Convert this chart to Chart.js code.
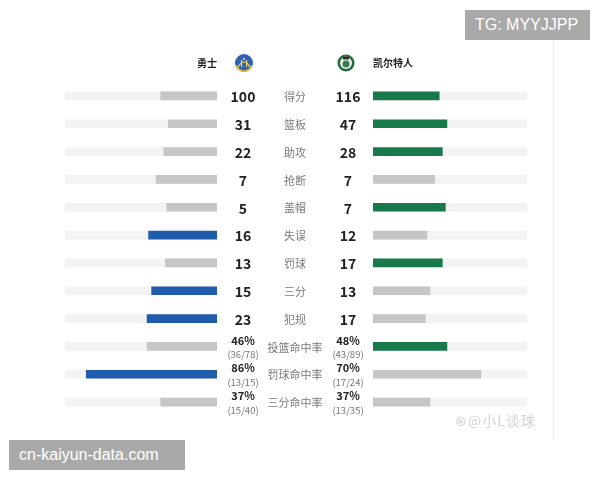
<!DOCTYPE html>
<html>
<head>
<meta charset="utf-8">
<script src="https://cdn.jsdelivr.net/npm/chart.js@4.4.1/dist/chart.umd.min.js"></script>
<style>
  html, body { margin: 0; padding: 0; background: #fff; }
  #wrap { position: relative; width: 600px; height: 480px; }
  canvas { position: absolute; left: 0; top: 0; }
  .tag { position: absolute; background: #a9a9a9; color: #fff; font-family: "Liberation Sans", "DejaVu Sans", sans-serif; font-size: 16px; line-height: 30px; padding: 0 10px; }
  .vline { position: absolute; left: 553px; top: 40px; width: 1px; height: 400px; background: #ececec; }
  .wm { position: absolute; left: 455px; top: 410px; color: #d4d4d4; font-family: "Noto Sans CJK SC", sans-serif; font-size: 14px; letter-spacing: 1px; }
</style>
</head>
<body>
<div id="wrap">
  <canvas id="c" width="600" height="480"></canvas>
  <div class="vline"></div>
  <div class="tag" style="left:465px; top:10px; width:105px;">TG: MYYJJPP</div>
  <div class="tag" style="left:9px; top:440px; width:156px;">cn-kaiyun-data.com</div>
  <div class="wm">⊛@小L谈球</div>
</div>
<script>
const teamNames = ['勇士', '凯尔特人'];
const categories = ['得分','篮板','助攻','抢断','盖帽','失误','罚球','三分','犯规','投篮命中率','罚球命中率','三分命中率'];
const warriorsValues = ['100','31','22','7','5','16','13','15','23','46%','86%','37%'];
const celticsValues  = ['116','47','28','7','7','12','17','13','17','48%','70%','37%'];
const warriorsFractions = ['','','','','','','','','','(36/78)','(13/15)','(15/40)'];
const celticsFractions  = ['','','','','','','','','','(43/89)','(17/24)','(13/35)'];
// bar length as % of the track
const warriorsBar = [37,32,35,40,33,45,34,43,46,46,86,37];
const celticsBar  = [43,48,45,40,47,35,45,37,34,48,70,37];
const warriorsLead = [0,0,0,0,0,1,0,1,1,0,1,0];
const celticsLead  = [1,1,1,0,1,0,1,0,0,1,0,0];
const trackFull = categories.map(() => 100);

const BLUE = '#1f5dac', GREEN = '#187a4b', GRAY = '#c6c6c6', TRACK = '#f3f3f3';
const CJK = '"Noto Sans CJK SC", "Noto Sans", sans-serif';

const labelPlugin = {
  id: 'labels',
  afterDatasetsDraw(chart) {
    const ctx = chart.ctx;
    const xm = chart.scales.xM, y = chart.scales.y;
    const cx = xm.getPixelForValue(0);
    const lx = xm.getPixelForValue(-52), rx = xm.getPixelForValue(53);
    ctx.save();
    ctx.textAlign = 'center';
    ctx.textBaseline = 'middle';
    categories.forEach((cat, i) => {
      const py = y.getPixelForValue(i);
      ctx.fillStyle = '#7a7a7a';
      ctx.font = '11px ' + CJK;
      ctx.fillText(cat, cx, py + 1);
      if (warriorsFractions[i]) {
        ctx.fillStyle = '#222';
        ctx.font = 'bold 11px ' + CJK;
        ctx.fillText(warriorsValues[i], lx, py - 6);
        ctx.fillText(celticsValues[i], rx, py - 6);
        ctx.fillStyle = '#777';
        ctx.font = '9.5px ' + CJK;
        ctx.fillText(warriorsFractions[i], lx, py + 8);
        ctx.fillText(celticsFractions[i], rx, py + 8);
      } else {
        ctx.fillStyle = '#222';
        ctx.font = 'bold 14px ' + CJK;
        ctx.fillText(warriorsValues[i], lx, py + 1);
        ctx.fillText(celticsValues[i], rx, py + 1);
      }
    });
    // header
    const hy = y.top - 19;
    ctx.fillStyle = '#222';
    ctx.font = 'bold 10px ' + CJK;
    ctx.fillText(teamNames[0], xm.left - 10, hy);
    ctx.fillText(teamNames[1], xm.right + 20, hy);
    // warriors logo
    const wx = xm.left + 27;
    ctx.beginPath(); ctx.arc(wx, hy, 9, 0, Math.PI * 2); ctx.fillStyle = '#2f62b0'; ctx.fill();
    ctx.beginPath(); ctx.arc(wx, hy, 8.2, 0.1 * Math.PI, 0.9 * Math.PI); ctx.lineWidth = 1.6; ctx.strokeStyle = '#e8c23a'; ctx.stroke();
    ctx.beginPath(); ctx.moveTo(wx - 6, hy + 4); ctx.quadraticCurveTo(wx, hy - 6, wx + 6, hy + 4);
    ctx.lineWidth = 1.2; ctx.strokeStyle = '#f3d46a'; ctx.stroke();
    ctx.fillStyle = '#f3d46a'; ctx.fillRect(wx - 3, hy - 3, 1.2, 7); ctx.fillRect(wx + 2, hy - 3, 1.2, 7);
    ctx.fillStyle = '#9fc1e8'; ctx.fillRect(wx - 1, hy - 5, 2, 2);
    // celtics logo
    const bx = xm.right - 27;
    ctx.beginPath(); ctx.arc(bx, hy, 8.5, 0, Math.PI * 2); ctx.fillStyle = '#1d6b3c'; ctx.fill();
    ctx.beginPath(); ctx.arc(bx, hy, 6, 0, Math.PI * 2); ctx.fillStyle = '#eef3ee'; ctx.fill();
    ctx.beginPath(); ctx.arc(bx, hy + 1, 3.5, 0, Math.PI * 2); ctx.fillStyle = '#3c7a4f'; ctx.fill();
    ctx.fillStyle = '#2d2d2d'; ctx.fillRect(bx - 3, hy - 6, 6, 2.5);
    ctx.fillStyle = '#b5473a'; ctx.fillRect(bx - 1, hy - 8, 2, 2);
    ctx.restore();
  }
};

new Chart(document.getElementById('c'), {
  type: 'bar',
  data: {
    labels: categories,
    datasets: [
      { data: warriorsBar, xAxisID: 'xL', order: 0, grouped: false,
        backgroundColor: warriorsLead.map(v => v ? BLUE : GRAY) },
      { data: celticsBar, xAxisID: 'xR', order: 0, grouped: false,
        backgroundColor: celticsLead.map(v => v ? GREEN : GRAY) },
      { data: trackFull, xAxisID: 'xL', order: 1, grouped: false, backgroundColor: TRACK },
      { data: trackFull, xAxisID: 'xR', order: 1, grouped: false, backgroundColor: TRACK }
    ]
  },
  options: {
    indexAxis: 'y',
    responsive: false,
    animation: false,
    devicePixelRatio: 1,
    barThickness: 8,
    layout: { padding: { left: 65, right: 73, top: 82, bottom: 64 } },
    plugins: { legend: { display: false }, tooltip: { enabled: false } },
    scales: {
      y: { type: 'category', display: false, offset: true },
      xL: { type: 'linear', position: 'bottom', stack: 'row', stackWeight: 152, min: 0, max: 100, reverse: true, display: false },
      xM: { type: 'linear', position: 'bottom', stack: 'row', stackWeight: 156, min: -78, max: 78, display: false },
      xR: { type: 'linear', position: 'bottom', stack: 'row', stackWeight: 154, min: 0, max: 100, display: false }
    }
  },
  plugins: [labelPlugin]
});
</script>
</body>
</html>
